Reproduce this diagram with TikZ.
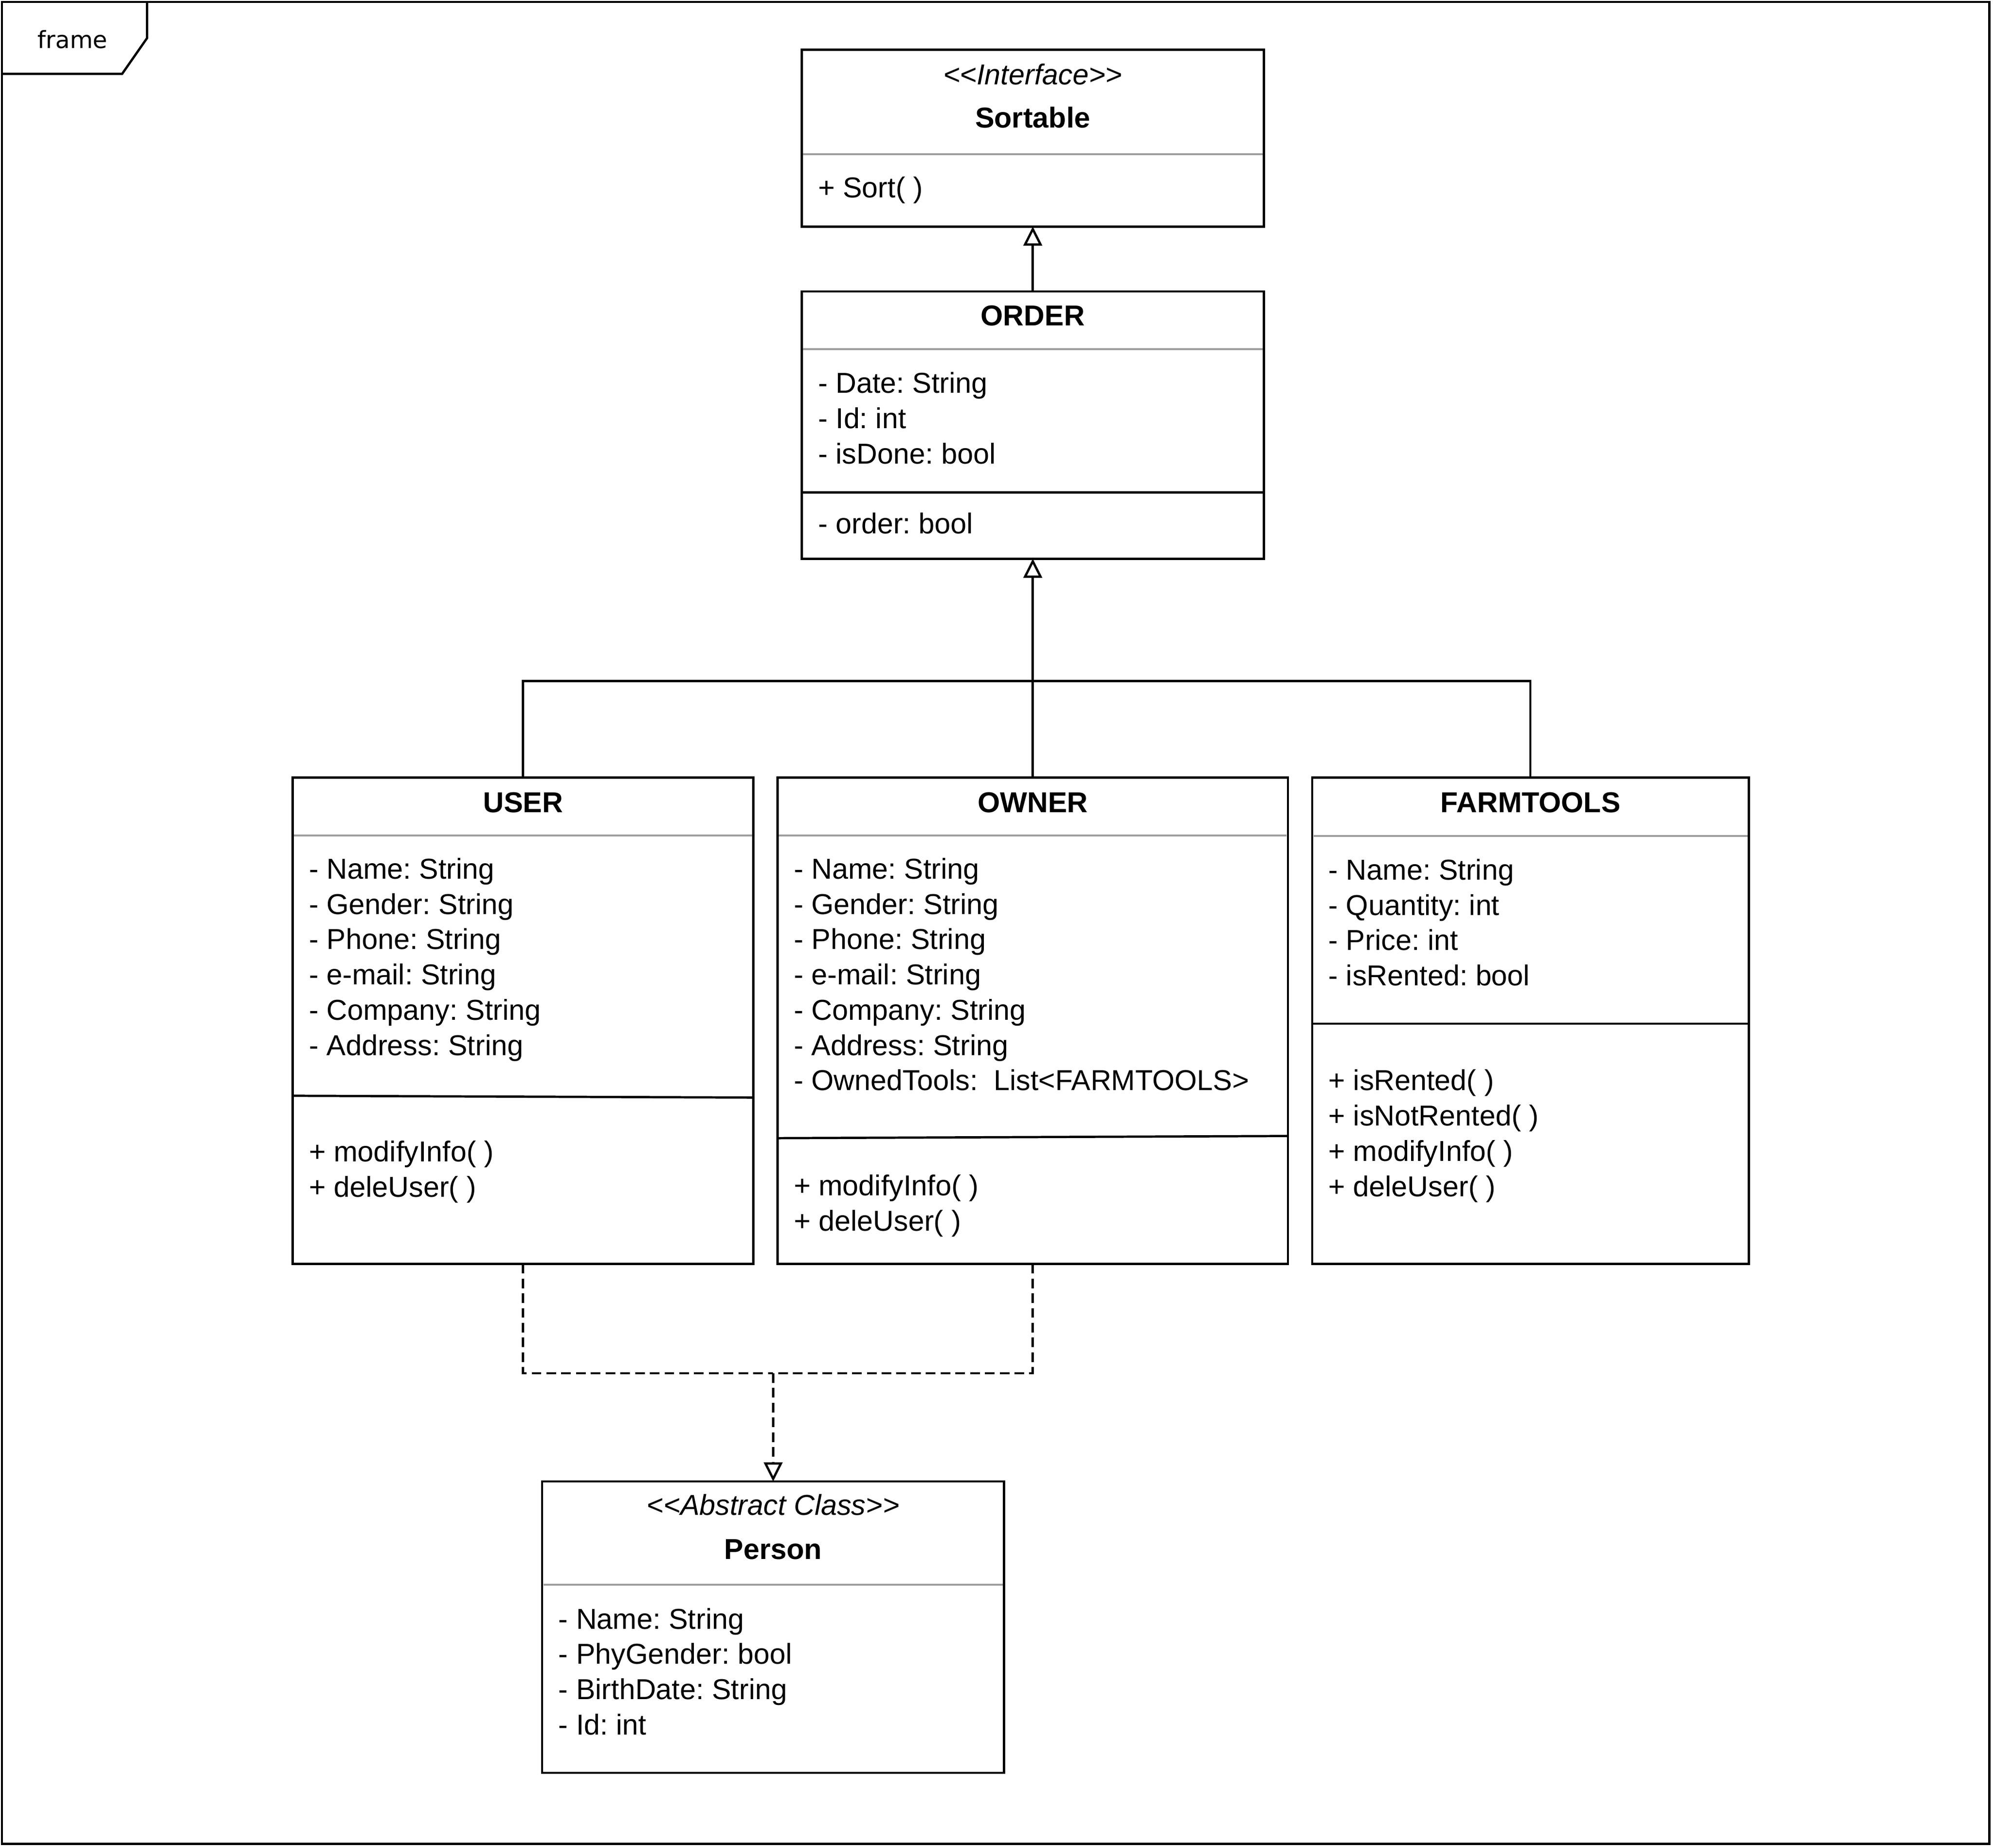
\documentclass[tikz,border=0pt]{standalone}
\usepackage{fontspec}
\setmainfont{Liberation Sans}[Ligatures=TeXOff]
\newfontfamily\framefont{DejaVu Sans}
\usepackage{tikz}
\usetikzlibrary{arrows.meta}
\frenchspacing

\definecolor{sepgray}{RGB}{158,158,158}
\newcommand{\umlsize}{\fontsize{11.3}{13.85}\selectfont}

\begin{document}
\begin{tikzpicture}[x=0.5pt, y=-0.5pt, line width=0.9pt,
  classbox/.style={draw, anchor=north west, inner sep=0pt, outer sep=0pt},
  title/.style={anchor=base, inner sep=0pt, font=\umlsize\bfseries},
  stereo/.style={anchor=base, inner sep=0pt, font=\umlsize\itshape},
  members/.style={anchor=north west, inner sep=0pt, align=left, font=\umlsize},
  graysep/.style={draw=sepgray, line width=0.75pt},
  inherit/.style={-{Triangle[open, length=7.5pt, width=7.3pt]}},
  realize/.style={dash pattern=on 3.8pt off 2pt}]
\useasboundingbox (0,0) rectangle (1566,1451.7);

% frame
\draw (1.5,1.5) rectangle (1563,1448.7);
\draw (115.5,1.5) -- (115.5,30) -- (96,58) -- (1.5,58);
\node[font=\framefont\fontsize{9.3}{11}\selectfont, anchor=base, inner sep=0pt] (framelbl) at (57,38) {frame};

% classes
\node[classbox, minimum width=181.5pt, minimum height=69.5pt] (sortable) at (630,39) {};
\node[classbox, minimum width=181.5pt, minimum height=105pt] (order) at (630,229) {};
\node[classbox, minimum width=181pt, minimum height=191pt] (user) at (230,611) {};
\node[classbox, minimum width=200.5pt, minimum height=191pt] (owner) at (611,611) {};
\node[classbox, minimum width=171.5pt, minimum height=191pt] (farmtools) at (1031,611) {};
\node[classbox, minimum width=181.5pt, minimum height=114.5pt] (person) at (426,1164) {};

% Sortable
\node[stereo] (sortstereo) at (811.5,66.3) {<<Interface>>};
\node[title] (sorttitle) at (811.5,100.5) {Sortable};
\draw[graysep] (631,121) -- (992,121);
\node[members] (sortmeth) at (642,135.1) {\strut + Sort( )};

% ORDER
\node[title] (ordertitle) at (811.5,256) {ORDER};
\draw[graysep] (631,274.5) -- (992,274.5);
\node[members] (orderattr) at (642,288.6) {\strut - Date: String\\- Id: int\\- isDone: bool};
\draw (630,386.8) -- (993,386.8);
\node[members] (ordermeth) at (642,399) {\strut - order: bool};

% USER
\node[title] (usertitle) at (411,638.2) {USER};
\draw[graysep] (231,656.5) -- (591,656.5);
\node[members] (userattr) at (242,670.3) {\strut - Name: String\\- Gender: String\\- Phone: String\\- e-mail: String\\- Company: String\\- Address: String};
\draw (230,861) -- (592,862.4);
\node[members] (usermeth) at (242,892.6) {\strut + modifyInfo( )\\+ deleUser( )};

% OWNER
\node[title] (ownertitle) at (811.5,638.2) {OWNER};
\draw[graysep] (612,656.5) -- (1011,656.5);
\node[members] (ownerattr) at (623,670.3) {\strut - Name: String\\- Gender: String\\- Phone: String\\- e-mail: String\\- Company: String\\- Address: String\\- OwnedTools:\ \ List<FARMTOOLS>};
\draw (611,894.3) -- (1012,892.6);
\node[members] (ownermeth) at (623,919.2) {\strut + modifyInfo( )\\+ deleUser( )};

% FARMTOOLS
\node[title] (farmtitle) at (1202.5,638.5) {FARMTOOLS};
\draw[graysep] (1032,656.8) -- (1373,656.8);
\node[members] (farmattr) at (1043,671) {\strut - Name: String\\- Quantity: int\\- Price: int\\- isRented: bool};
\draw (1031,804.3) -- (1374,804.3);
\node[members] (farmmeth) at (1043,836.6) {\strut + isRented( )\\+ isNotRented( )\\+ modifyInfo( )\\+ deleUser( )};

% Person
\node[stereo] (personstereo) at (607.5,1190.5) {<<Abstract Class>>};
\node[title] (persontitle) at (607.5,1225.2) {Person};
\draw[graysep] (427,1245) -- (788,1245);
\node[members] (personattr) at (438,1259.6) {\strut - Name: String\\- PhyGender: bool\\- BirthDate: String\\- Id: int};

% connectors
\coordinate (treejoin) at (811.5,535);
\coordinate (personjoin) at (607.5,1079);
\draw[inherit] (order.north) -- (sortable.south);
\draw[inherit] (owner.north) -- (order.south);
\draw (user.north) |- (treejoin) -| (farmtools.north);
\draw[realize] (user.south) |- (personjoin);
\draw[realize] (owner.south) |- (personjoin);
\draw[realize, inherit] (personjoin) -- (person.north);
\end{tikzpicture}
\end{document}
